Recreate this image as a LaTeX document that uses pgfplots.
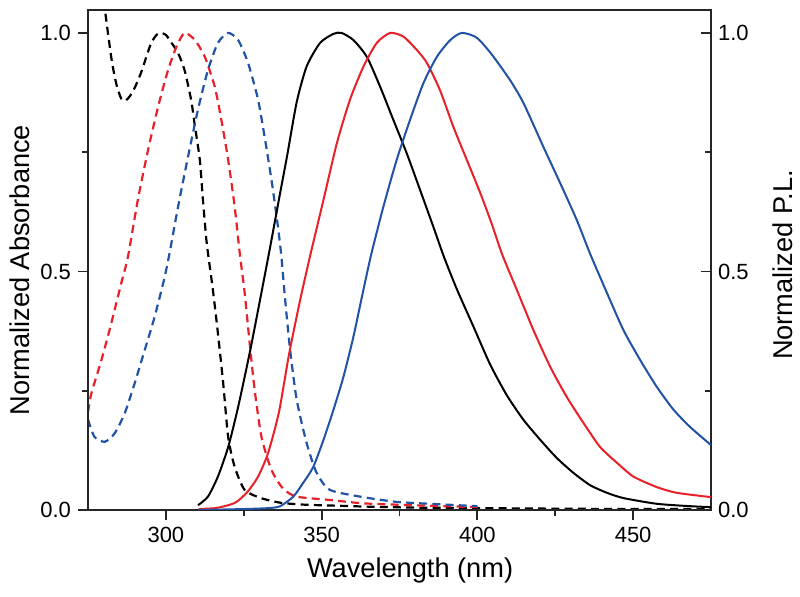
\documentclass[border=0pt]{standalone}
\usepackage{fontspec}
\setmainfont{Liberation Sans}
\usepackage{pgfplots}
\usepackage{pgfplotstable}
\pgfplotsset{compat=1.18}
\usetikzlibrary{calc}

\definecolor{specred}{RGB}{232,32,40}
\definecolor{specblue}{RGB}{32,82,165}

% absorbance (dashed)
\pgfplotstableread{
x y
278.5 1.15
280.4 1.05
282.6 0.943
284.2 0.89
285.7 0.862
287.0 0.858
288.4 0.867
290.0 0.885
292.0 0.916
294.0 0.955
295.3 0.979
297.0 0.996
298.4 1.0
300.0 0.996
301.2 0.985
303.9 0.958
306.0 0.922
308.1 0.86
309.2 0.81
310.9 0.734
311.9 0.65
313.0 0.566
313.5 0.539
315.1 0.461
316.7 0.371
318.4 0.266
320.0 0.153
322.1 0.09
325.3 0.042
330.5 0.025
337.0 0.015
345.0 0.011
355.0 0.009
365.0 0.007
380.0 0.005
400.0 0.004
420.0 0.003
450.0 0.002
475.0 0.002
}\absblack

\pgfplotstableread{
x y
275.0 0.205
276.1 0.245
279.3 0.314
282.5 0.392
285.7 0.476
287.8 0.53
291.0 0.65
294.3 0.755
297.5 0.845
300.7 0.922
303.4 0.971
306.0 1.0
309.3 0.985
312.5 0.95
315.7 0.887
317.8 0.818
320.0 0.734
322.1 0.635
323.7 0.539
325.3 0.455
326.9 0.35
328.5 0.252
330.7 0.153
333.9 0.084
337.6 0.045
342.0 0.028
352.7 0.021
363.3 0.014
379.4 0.010
400.0 0.006
}\absred

\pgfplotstableread{
x y
275.0 0.19
277.1 0.153
280.4 0.143
283.6 0.161
286.8 0.203
290.0 0.266
293.2 0.335
296.4 0.405
299.6 0.488
301.2 0.539
303.9 0.635
307.1 0.74
310.3 0.839
313.5 0.922
316.7 0.979
320.0 1.0
323.2 0.985
326.4 0.937
329.6 0.86
331.7 0.782
333.9 0.692
336.0 0.593
337.1 0.53
338.3 0.44
339.9 0.335
342.0 0.231
345.2 0.14
348.4 0.078
352.7 0.042
363.3 0.027
374.1 0.017
384.8 0.013
400.0 0.008
}\absblue

% photoluminescence (solid)
\pgfplotstableread{
x y
310.3 0.010
313.5 0.028
316.7 0.07
320.0 0.132
323.2 0.216
326.9 0.329
329.6 0.419
333.3 0.545
336.7 0.665
339.0 0.745
342.0 0.855
345.2 0.93
349.5 0.979
353.8 0.998
356.4 1.0
360.2 0.985
364.5 0.95
368.8 0.887
373.0 0.818
377.3 0.748
381.6 0.671
385.9 0.593
389.3 0.53
393.4 0.463
398.7 0.385
404.1 0.305
409.5 0.240
414.8 0.189
420.2 0.147
425.5 0.109
430.8 0.078
436.2 0.052
441.6 0.036
446.9 0.025
457.6 0.013
468.3 0.008
475.0 0.006
}\plblack

\pgfplotstableread{
x y
310.5 0.002
316.0 0.004
320.0 0.010
322.7 0.017
326.2 0.038
329.6 0.07
332.8 0.119
336.3 0.205
339.5 0.325
343.1 0.44
346.5 0.538
350.6 0.65
354.9 0.769
359.1 0.86
363.4 0.929
367.7 0.979
372.0 1.0
376.3 0.992
380.6 0.964
383.8 0.937
388.0 0.88
392.3 0.803
396.6 0.734
400.9 0.665
404.6 0.60
408.0 0.535
412.7 0.461
418.0 0.377
423.4 0.30
428.7 0.237
434.1 0.182
439.4 0.132
444.8 0.099
450.1 0.07
457.6 0.048
464.0 0.036
475.0 0.027
}\plred

\pgfplotstableread{
x y
310.5 0.0
325.0 0.002
333.0 0.004
336.7 0.008
340.9 0.028
344.1 0.057
347.3 0.09
350.6 0.147
353.8 0.21
357.0 0.279
360.2 0.363
363.4 0.461
365.9 0.535
369.8 0.635
374.1 0.734
378.4 0.818
382.7 0.895
387.0 0.95
391.3 0.985
395.0 1.0
399.8 0.99
404.6 0.955
410.5 0.901
414.8 0.853
421.2 0.761
426.6 0.685
431.9 0.608
436.2 0.537
441.6 0.455
446.9 0.377
452.3 0.314
457.6 0.258
463.0 0.21
468.3 0.174
475.0 0.136
}\plblue

\begin{document}
\begin{tikzpicture}
\pgfplotsset{
  specaxis/.style={
    scale only axis, width=311.5pt, height=250pt,
    xmin=275, xmax=475, ymin=0, ymax=1.048,
    axis line style={line width=0.9pt, black!85},
    every tick/.style={line width=0.9pt, black!85},
    major tick length=5pt, minor tick length=3pt,
    tick label style={font=\fontsize{11}{13}\selectfont},
    label style={font=\fontsize{13.6}{16}\selectfont},
    /pgf/number format/assume math mode=true,
    yticklabel style={/pgf/number format/.cd, fixed, fixed zerofill, precision=1},
    ytick={0,0.5,1}, minor ytick={0.25,0.75},
  },
  absline/.style={line width=1.1pt, dash pattern=on 4pt off 2.6pt, smooth, tension=0.4},
  plline/.style={line width=1pt, smooth, tension=0.4},
}
\begin{axis}[specaxis,
  xtick={300,350,400,450}, minor xtick={325,375,425},
  xtick pos=bottom, ytick pos=left, tick align=outside,
  xlabel={Wavelength (nm)}, ylabel={Normalized Absorbance},
  xlabel style={at={(axis description cs:0.517,-0.134)}, anchor=base},
  ylabel style={at={(axis description cs:-0.109,0.48)}, anchor=center},
]
\addplot[absline, black, no markers] table {\absblack};
\addplot[absline, specred, no markers] table {\absred};
\addplot[absline, specblue, no markers] table {\absblue};
\end{axis}
\begin{axis}[specaxis,
  xtick=\empty,
  ytick pos=right, yticklabel pos=right, tick align=inside,
  ylabel={Normalized P.L.},
  ylabel style={at={(axis description cs:1.1156,0.49)}, anchor=center},
]
\addplot[plline, black, no markers] table {\plblack};
\addplot[plline, specred, no markers] table {\plred};
\addplot[plline, specblue, no markers] table {\plblue};
\end{axis}
\pgfresetboundingbox
\path[use as bounding box] ($(current axis.south west)+(-44pt,-43pt)$) rectangle ++(400pt,298pt);
\end{tikzpicture}
\end{document}
